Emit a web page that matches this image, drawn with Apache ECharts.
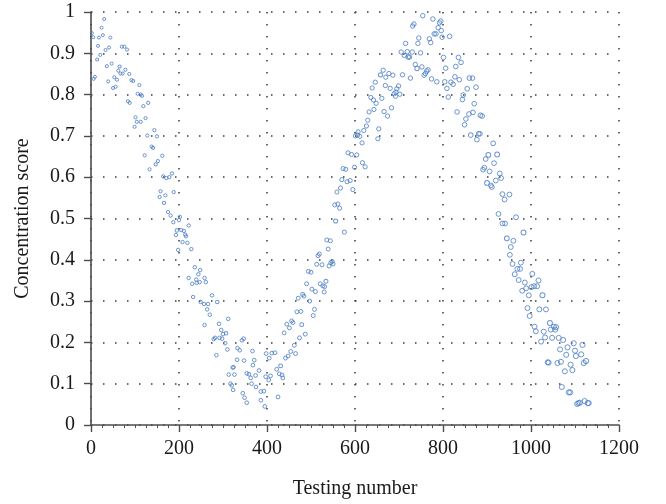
<!DOCTYPE html>
<html>
<head>
<meta charset="utf-8">
<script src="https://cdn.jsdelivr.net/npm/echarts@6/dist/echarts.min.js"></script>
<style>
  html, body { margin: 0; padding: 0; background: #fff; }
  #chart { width: 666px; height: 504px; }
</style>
</head>
<body>
<div id="chart"></div>
<script>
// [testing number, concentration score], one array per stretch of the curve
const firstDrop = [
  [2,0.949],[5,0.939],[30,0.983],[24,0.962],[18,0.938],[27,0.944],[44,0.938],[16,0.918],[33,0.908],[41,0.914],
  [70,0.916],[76,0.916],[82,0.909],[21,0.896],[14,0.885],[36,0.869],[47,0.875],[65,0.868],[78,0.86],[62,0.858],
  [67,0.851],[72,0.851],[87,0.85],[53,0.842],[59,0.836],[92,0.835],[96,0.833],[9,0.843],[6,0.838],[39,0.832],
  [56,0.819],[50,0.816],[110,0.823],[106,0.802],[113,0.8],[116,0.797],[130,0.78],[84,0.784],[88,0.78],[119,0.772],
  [101,0.745],[124,0.743],[104,0.734],[113,0.734],[99,0.722],[144,0.714],[128,0.701],[150,0.699],[138,0.674],[141,0.671],
  [122,0.653],[162,0.652],[152,0.639],[147,0.631],[133,0.619],[164,0.602],[171,0.598],[178,0.6],[184,0.609],[158,0.566],
  [169,0.556],[156,0.552],[188,0.564],[166,0.538],[175,0.516],[181,0.507],[187,0.491],[195,0.471],[193,0.46],[198,0.424]
];

const lowPart = [
  [202,0.504],[200,0.496],[205,0.472],[211,0.47],[214,0.461],[216,0.457],[222,0.483],[208,0.443],[219,0.441],[228,0.426],
  [236,0.382],[248,0.375],[244,0.365],[222,0.356],[239,0.352],[258,0.356],[261,0.346],[230,0.342],[240,0.344],[247,0.346],
  [275,0.314],[232,0.31],[249,0.298],[257,0.293],[266,0.293],[287,0.298],[264,0.28],[270,0.267],[258,0.242],[291,0.245],
  [312,0.257],[296,0.23],[300,0.22],[307,0.222],[298,0.209],[279,0.208],[282,0.211],[292,0.211],[305,0.198],[347,0.209],
  [343,0.205],[285,0.169],[310,0.183],[333,0.186],[338,0.181],[367,0.179],[332,0.158],[348,0.156],[371,0.157],[322,0.139],
  [324,0.14],[313,0.122],[326,0.122],[354,0.125],[359,0.123],[368,0.145],[374,0.12],[382,0.132],[363,0.114],[317,0.1],
  [320,0.096],[323,0.085],[365,0.1],[375,0.092],[386,0.081],[393,0.082],[397,0.117],[404,0.109],[408,0.119],[345,0.077],
  [349,0.066],[354,0.054],[386,0.06],[395,0.045],[398,0.173],[405,0.162],[411,0.174]
];

const rising = [
  [418,0.175],[422,0.135],[428,0.124],[431,0.143],[434,0.121],[436,0.114],[425,0.068],[442,0.162],[448,0.167],[454,0.178],
  [462,0.193],[465,0.173],[474,0.211],[487,0.22],[479,0.243],[439,0.223],[451,0.235],[445,0.244],[456,0.252],[459,0.248],
  [468,0.274],[477,0.275],[471,0.307],[481,0.316],[484,0.312],[490,0.342],[497,0.3],[505,0.265],[508,0.28],[502,0.329],
  [510,0.323],[494,0.372],[500,0.37],[513,0.389],[525,0.388],[516,0.41],[519,0.414],[521,0.342],[527,0.337],[530,0.322],
  [534,0.348],[531,0.335],[541,0.385],[545,0.393],[548,0.396],[550,0.39],[539,0.426],[536,0.448],[544,0.446],[556,0.494],
  [576,0.467],[554,0.533],[561,0.535],[565,0.525],[559,0.564],[567,0.574],[570,0.594],[582,0.589],[589,0.592],[595,0.57],
  [573,0.621],[579,0.619],[599,0.624],[584,0.659],[592,0.655],[604,0.654],[601,0.7],[606,0.702],[607,0.71],[611,0.699]
];

const peak = [
  [617,0.635],[623,0.625],[616,0.683],[652,0.693],[654,0.717],[620,0.713],[626,0.724],[629,0.738],[632,0.758],[643,0.764],
  [636,0.793],[642,0.787],[648,0.779],[661,0.791],[666,0.759],[674,0.748],[683,0.768],[639,0.816],[646,0.83],[669,0.822],
  [680,0.815],[689,0.802],[692,0.796],[695,0.814],[699,0.821],[702,0.801],[693,0.806],[658,0.848],[664,0.859],[670,0.842],
  [677,0.851],[686,0.847],[708,0.848],[726,0.84],[705,0.903],[712,0.895],[719,0.904],[721,0.891],[724,0.891],[730,0.903],
  [749,0.901],[737,0.873],[741,0.863],[752,0.867],[757,0.847],[760,0.851],[763,0.857],[766,0.86],[774,0.838],[786,0.831],
  [715,0.924],[743,0.924],[745,0.937],[769,0.935],[772,0.926],[731,0.966],[734,0.971],[754,0.991],[777,0.983],[789,0.962],
  [792,0.974],[795,0.978],[780,0.947],[784,0.947]
];

const secondDrop = [
  [796,0.955],[798,0.939],[815,0.941],[801,0.89],[806,0.864],[835,0.89],[841,0.878],[829,0.868],[804,0.831],[809,0.815],
  [812,0.794],[818,0.83],[823,0.825],[827,0.843],[837,0.836],[860,0.84],[867,0.84],[855,0.814],[846,0.799],[844,0.788],
  [875,0.818],[871,0.778],[868,0.757],[859,0.753],[852,0.741],[849,0.727],[832,0.758],[885,0.75],[889,0.748],[881,0.705],
  [884,0.705],[863,0.702],[877,0.691],[914,0.682],[903,0.654],[923,0.655],[897,0.644],[916,0.634],[894,0.623],[891,0.618],
  [906,0.614],[929,0.609],[932,0.598],[920,0.592],[900,0.586],[909,0.58],[911,0.576],[935,0.559],[951,0.558],[940,0.546],
  [926,0.511]
];

const tail = [
  [935,0.488],[941,0.488],[966,0.503],[983,0.466],[945,0.452],[960,0.446],[954,0.431],[952,0.412],[958,0.39],[977,0.393],
  [969,0.378],[975,0.378],[963,0.365],[1003,0.366],[972,0.351],[1017,0.35],[986,0.345],[989,0.331],[1001,0.334],[1007,0.336],
  [1014,0.336],[980,0.325],[995,0.314],[1026,0.314],[992,0.283],[1019,0.28],[1034,0.28],[997,0.264],[1008,0.238],[1043,0.247],
  [1011,0.227],[1029,0.226],[1052,0.238],[1057,0.237],[1045,0.231],[1055,0.231],[1032,0.212],[1023,0.202],[1048,0.211],[1063,0.211],
  [1073,0.206],[1097,0.198],[1117,0.194],[1066,0.183],[1083,0.188],[1100,0.18],[1114,0.171],[1080,0.17],[1102,0.167],[1038,0.152],
  [1040,0.151],[1060,0.15],[1068,0.153],[1090,0.146],[1125,0.155],[1120,0.15],[1077,0.13],[1094,0.133],[1070,0.092],[1086,0.079],
  [1089,0.079],[1105,0.051],[1108,0.053],[1111,0.054],[1122,0.058],[1129,0.053],[1131,0.053]
];

const points = [].concat(firstDrop, lowPart, rising, peak, secondDrop, tail);

const chart = echarts.init(document.getElementById('chart'));

const serif = 'Liberation Serif';
const gridDots = { color: '#3a3a3a', width: 1.5, type: [1.5, 10.5] };
const axisInk = '#4d4d4d';

const option = {
  animation: false,
  grid: { left: 91, right: 47, top: 12, bottom: 76 },
  xAxis: {
    type: 'value',
    min: 0,
    max: 1200,
    interval: 200,
    name: 'Testing number',
    nameLocation: 'middle',
    nameGap: 54,
    nameTextStyle: { fontFamily: serif, fontSize: 20, color: '#1a1a1a' },
    axisLine: { show: true, lineStyle: { color: axisInk, width: 1.6 } },
    axisTick: { show: true, length: 7, lineStyle: { color: axisInk, width: 1.4 } },
    minorTick: { show: true, splitNumber: 8, length: 3, lineStyle: { color: axisInk, width: 1 } },
    axisLabel: {
      fontFamily: serif, fontSize: 20, color: '#1a1a1a', margin: 14,
      formatter: function (v) { return String(v); }
    },
    splitLine: { show: true, lineStyle: gridDots }
  },
  yAxis: {
    type: 'value',
    min: 0,
    max: 1,
    interval: 0.1,
    name: 'Concentration score',
    nameLocation: 'middle',
    nameGap: 58,
    nameTextStyle: { fontFamily: serif, fontSize: 20, color: '#1a1a1a' },
    axisLine: { show: true, lineStyle: { color: axisInk, width: 1.6 } },
    axisTick: { show: true, length: 7, lineStyle: { color: axisInk, width: 1.4 } },
    axisLabel: {
      fontFamily: serif, fontSize: 20, color: '#1a1a1a', margin: 16,
      formatter: function (v) { return String(Math.round(v * 10) / 10); }
    },
    splitLine: { show: true, lineStyle: gridDots }
  },
  series: [{
    type: 'scatter',
    data: points,
    symbol: 'circle',
    // marks get a little bigger towards the right, as in the source
    symbolSize: function (val) { return 3 + val[0] / 1130 * 2.2; },
    itemStyle: { color: 'rgba(255,255,255,0)', borderColor: '#4a7cc4', borderWidth: 1 }
  }]
};

chart.setOption(option);

window.addEventListener('resize', function () {
  chart.resize();
});
</script>
</body>
</html>
